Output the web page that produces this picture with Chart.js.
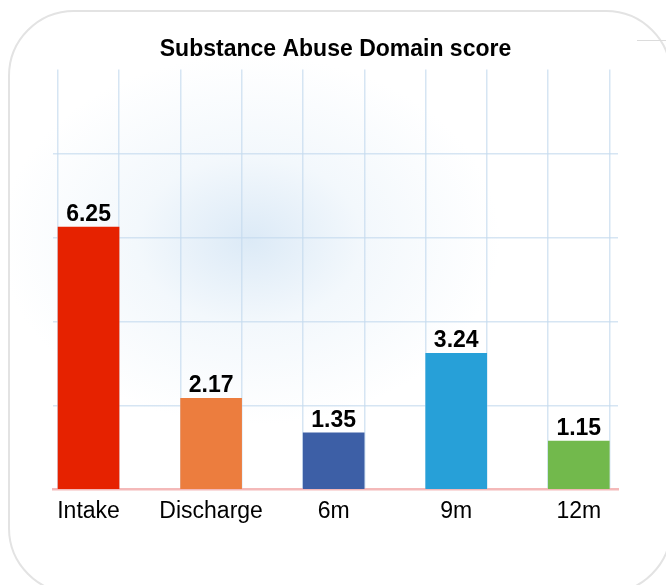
<!DOCTYPE html>
<html>
<head>
<meta charset="utf-8">
<title>Substance Abuse Domain score</title>
<script src="https://cdn.jsdelivr.net/npm/chart.js@4.4.0/dist/chart.umd.min.js"></script>
<style>
  html, body { margin: 0; padding: 0; background: #fff; width: 666px; height: 585px; overflow: hidden; }
  .card {
    position: absolute; left: 8px; top: 10px; width: 664px; height: 584px;
    box-sizing: border-box; border: 2px solid #e3e3e3; border-radius: 66px;
    background:
      radial-gradient(ellipse 250px 185px at 240px 228px, rgba(205,225,243,0.7) 0%, rgba(226,238,248,0.42) 45%, rgba(255,255,255,0) 100%),
      #fff;
  }
  .edge { position: absolute; left: 637px; top: 40px; width: 29px; height: 1px; background: #dcdcdc; }
  #chart { position: absolute; left: 0; top: 0; }
</style>
</head>
<body>
<div class="card"></div>
<div class="edge"></div>
<canvas id="chart" width="666" height="585"></canvas>
<script>
// scores per assessment point
var categories = ["Intake", "Discharge", "6m", "9m", "12m"];
var scores = [6.25, 2.17, 1.35, 3.24, 1.15];
var barColors = ["#e62200", "#ec7d3e", "#3d5fa6", "#27a0d8", "#72b94c"];
var yTicks = [0, 2, 4, 6, 8, 10];

var font = '"Liberation Sans", Arial, Helvetica, sans-serif';
var gridBlue = "rgba(196,218,238,0.7)";

// vertical grid lines sit on the bar edges
var barEdges = [];
categories.forEach(function (c, i) { barEdges.push(i - 0.25, i + 0.25); });

var valueLabels = {
  id: "valueLabels",
  afterDatasetsDraw: function (chart) {
    var ctx = chart.ctx;
    var meta = chart.getDatasetMeta(0);
    ctx.save();
    ctx.font = "bold 23px " + font;
    ctx.fillStyle = "#000";
    ctx.textAlign = "center";
    ctx.textBaseline = "alphabetic";
    meta.data.forEach(function (bar, i) {
      ctx.fillText(scores[i].toFixed(2), bar.x, bar.y - 6);
    });
    ctx.restore();
  }
};

var ctx = document.getElementById("chart").getContext("2d");
new Chart(ctx, {
  type: "bar",
  data: {
    datasets: [{
      data: categories.map(function (c, i) { return { x: i, y: scores[i] }; }),
      xAxisID: "x",
      backgroundColor: barColors,
      barThickness: 61,
      borderWidth: 0
    }]
  },
  options: {
    responsive: false,
    animation: false,
    devicePixelRatio: 1,
    layout: { padding: { top: 36, left: 53, right: 48, bottom: 60 } },
    plugins: {
      legend: { display: false },
      tooltip: { enabled: false },
      title: {
        display: true,
        text: "Substance Abuse Domain score",
        color: "#000",
        font: { family: font, size: 23, weight: "bold" },
        padding: { top: 0, bottom: 6 }
      }
    },
    scales: {
      x: {
        type: "linear",
        offset: false,
        min: -0.29,
        max: 4.32,
        z: 1,
        grid: { display: false },
        border: { display: true, color: "#f4b9b9", width: 2.5 },
        afterBuildTicks: function (scale) {
          scale.ticks = categories.map(function (c, i) { return { value: i }; });
        },
        ticks: {
          autoSkip: false,
          maxRotation: 0,
          padding: 0,
          color: "#000",
          font: { family: font, size: 23 },
          callback: function (v) { return categories[v]; }
        }
      },
      xGrid: {
        type: "linear",
        axis: "x",
        position: "bottom",
        offset: false,
        min: -0.29,
        max: 4.32,
        afterBuildTicks: function (scale) {
          scale.ticks = barEdges.map(function (v) { return { value: v }; });
        },
        ticks: { display: false, padding: 0 },
        border: { display: false },
        grid: { offset: false, color: gridBlue, lineWidth: 1.5, drawTicks: false }
      },
      y: {
        min: 0,
        max: 10,
        afterBuildTicks: function (scale) {
          scale.ticks = yTicks.map(function (v) { return { value: v }; });
        },
        ticks: { display: false },
        border: { display: false },
        grid: {
          drawTicks: false,
          lineWidth: 1.5,
          color: function (c) {
            var v = c.tick ? c.tick.value : 0;
            return (v === 0 || v === 10) ? "rgba(0,0,0,0)" : gridBlue;
          }
        }
      }
    }
  },
  plugins: [valueLabels]
});
</script>
</body>
</html>
